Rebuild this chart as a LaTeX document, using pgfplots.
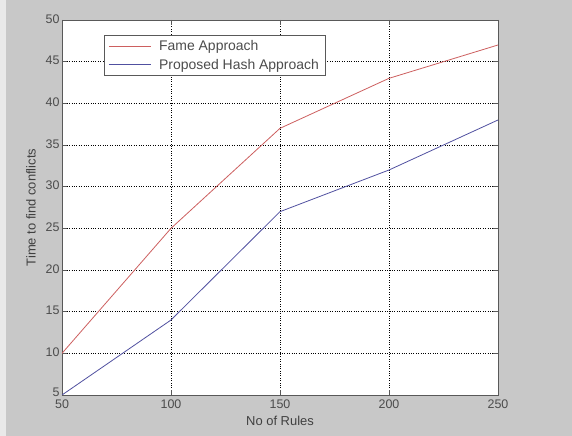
\documentclass[border=0pt]{standalone}
\usepackage{pgfplots}
\pgfplotsset{compat=1.18}
\usepackage{fontspec}
\setmainfont{Liberation Sans}
\definecolor{bggray}{RGB}{200,200,200}
\definecolor{famered}{RGB}{205,95,95}
\definecolor{hashblue}{RGB}{80,80,160}
\begin{document}
\begin{tikzpicture}[x=1bp,y=1bp]
\fill[bggray] (0,0) rectangle (572,436);
\fill[white!60!bggray] (0,0) rectangle (6,436);
\begin{axis}[
  at={(62bp,41bp)}, anchor=south west,
  scale only axis, width=436bp, height=375bp,
  xmin=50, xmax=250, ymin=5, ymax=50,
  xtick={50,100,...,250}, ytick={5,10,...,50},
  yticklabels={\raisebox{3bp}{5},10,15,20,25,30,35,40,45,50},
  tick align=inside, tick pos=both,
  major tick length=5bp,
  axis background/.style={fill=white},
  axis line style={black!65, line width=0.8pt},
  grid=major, grid style={black, dotted, line width=0.6pt},
  tick style={black!65, line width=0.6pt},
  ticklabel style={font=\fontsize{12.5}{13}\selectfont, text=black!70},
  xticklabel style={yshift=-1.5bp},
  yticklabel style={xshift=1bp, yshift=1bp},
  label style={font=\fontsize{13}{14}\selectfont, text=black!75},
  xlabel={No of Rules}, ylabel={Time to find conflicts},
  xlabel style={yshift=0bp}, ylabel style={yshift=3bp},
  /pgf/number format/assume math mode=true,
  legend style={at={(rel axis cs:0.0963,0.96)}, anchor=north west,
    draw=black!65, line width=0.8pt, font=\fontsize{14}{15}\selectfont, text=black!70,
    inner xsep=4bp, inner ysep=3bp, row sep=3bp, cells={anchor=west}},
  legend image code/.code={\draw[#1, line width=0.8pt] (3bp,0bp) -- (45bp,0bp);
    \path (51bp,0bp);},
  legend cell align=left,
]
\addplot[famered, line width=0.8pt] coordinates {(50,10) (100,25) (150,37) (200,43) (250,47)};
\addlegendentry{Fame Approach}
\addplot[hashblue, line width=0.8pt] coordinates {(50,5) (100,14) (150,27) (200,32) (250,38)};
\addlegendentry{Proposed Hash Approach\hspace{5bp}}
\end{axis}
\end{tikzpicture}
\end{document}
